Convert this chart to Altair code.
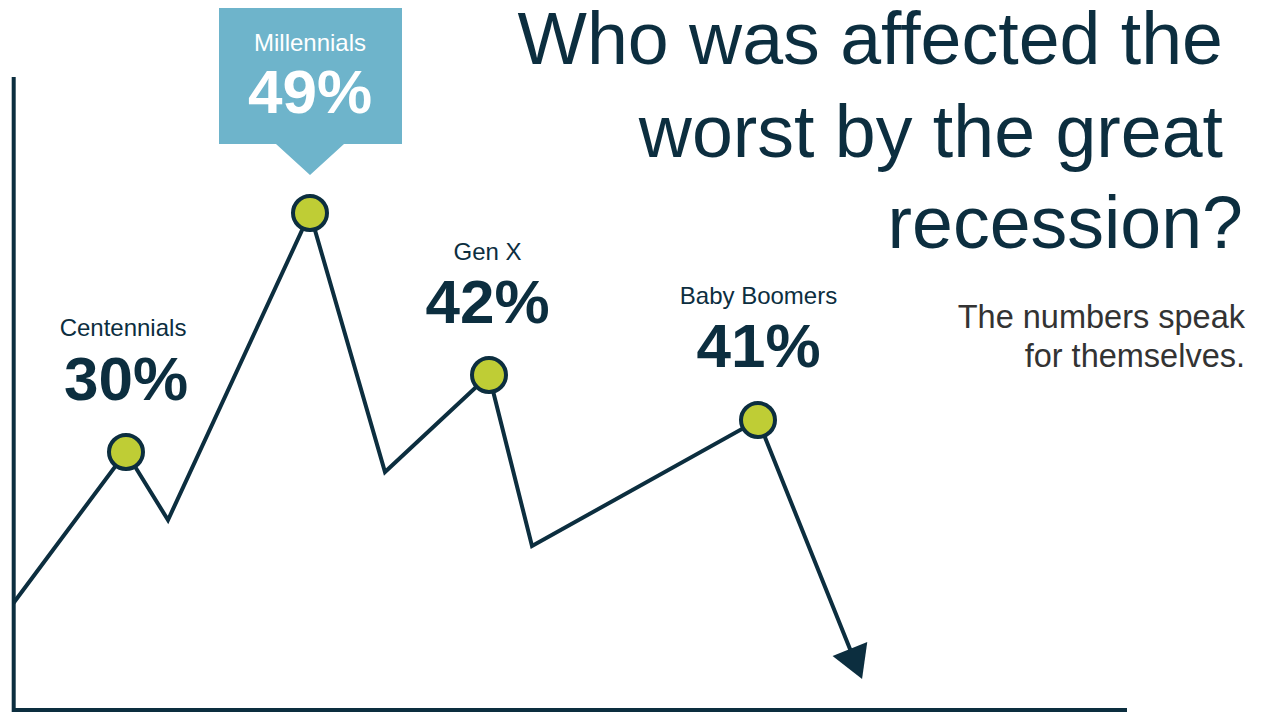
import altair as alt
import pandas as pd

NAVY = "#0C2E3F"
LIME = "#BFCD35"
CALLOUT = "#6EB4CB"
GREY = "#333333"
FONT = "Liberation Sans"

# Illustrative trend line (arbitrary units: x along time, y level)
line_x = [0.55, 11.8, 16.0, 30.2, 37.7, 48.1, 52.4, 75.0, 84.8]
line_y = [10.1, 25.2, 18.4, 49.1, 23.2, 32.9, 15.8, 28.4, 4.0]

# Generations and their shares
generations = ["Centennials", "Millennials", "Gen X", "Baby Boomers"]
shares = [30, 49, 42, 41]
dot_x = [11.8, 30.2, 48.1, 75.0]
dot_y = [25.2, 49.1, 32.9, 28.4]

# Label anchors
name_x = [11.5, 30.2, 47.95, 75.05]
name_y = [36.8, 65.3, 44.4, 40.0]
pct_x = [11.8, 30.2, 47.95, 75.05]
pct_y = [30.4, 59.1, 38.1, 33.7]
label_color = [NAVY, "white", NAVY, NAVY]

# Callout outline for Millennials (box with pointer)
callout_x = [21.1, 26.8, 30.2, 33.6, 39.4]
callout_top = [69.6, 69.6, 69.6, 69.6, 69.6]
callout_bottom = [56.0, 56.0, 52.9, 56.0, 56.0]

# Frame lines
frame_x = [0.57, 0.57]
frame_x2 = [0.57, 111.9]
frame_y = [62.7, -0.6]
frame_y2 = [-0.8, -0.6]

title_lines = ["Who was affected the", "worst by the great", "recession?"]
title_x = [121.5, 121.5, 123.5]
title_y = [64.0, 54.7, 45.6]

sub_lines = ["The numbers speak", "for themselves."]
sub_x = [123.7, 123.7]
sub_y = [37.6, 33.7]

arrow_x = [84.8]
arrow_y = [4.0]

W, H = 1247, 704
xs = alt.Scale(domain=[0, 124.7], nice=False, zero=False)
ys = alt.Scale(domain=[-0.8, 69.6], nice=False, zero=False)

def X(f="x"):
    return alt.X(f"{f}:Q", scale=xs, axis=None)

def Y(f="y"):
    return alt.Y(f"{f}:Q", scale=ys, axis=None)

line_df = pd.DataFrame({"x": line_x, "y": line_y, "o": list(range(len(line_x)))})
dots_df = pd.DataFrame({"x": dot_x, "y": dot_y, "g": generations})
labels_df = pd.DataFrame({
    "g": generations,
    "pct": [f"{v}%" for v in shares],
    "nx": name_x, "ny": name_y, "px": pct_x, "py": pct_y,
    "c": label_color,
})
callout_df = pd.DataFrame({"x": callout_x, "y": callout_top, "y2": callout_bottom})
frame_df = pd.DataFrame({"x": frame_x, "x2": frame_x2, "y": frame_y, "y2": frame_y2})
title_df = pd.DataFrame({"t": title_lines, "x": title_x, "y": title_y})
sub_df = pd.DataFrame({"t": sub_lines, "x": sub_x, "y": sub_y})
arrow_df = pd.DataFrame({"x": arrow_x, "y": arrow_y})

frame = alt.Chart(frame_df).mark_rule(color=NAVY, strokeWidth=4, strokeCap="butt").encode(
    x=X(), x2="x2:Q", y=Y(), y2="y2:Q"
)

callout = alt.Chart(callout_df).mark_area(color=CALLOUT, opacity=1).encode(
    x=X(), y=Y(), y2="y2:Q"
)

trend = alt.Chart(line_df).mark_line(color=NAVY, strokeWidth=4, strokeJoin="miter").encode(
    x=X(), y=Y(), order="o:Q"
)

arrow = alt.Chart(arrow_df).mark_point(
    shape="triangle-down", filled=True, color=NAVY, size=1400, angle=338, opacity=1
).encode(x=X(), y=Y())

dots = alt.Chart(dots_df).mark_point(
    shape="circle", filled=True, fill=LIME, stroke=NAVY, strokeWidth=4, size=1156, opacity=1
).encode(x=X(), y=Y())

names = alt.Chart(labels_df).mark_text(
    font=FONT, fontSize=24, align="center", baseline="alphabetic"
).encode(x=X("nx"), y=Y("ny"), text="g:N", color=alt.Color("c:N", scale=None))

pcts = alt.Chart(labels_df).mark_text(
    font=FONT, fontSize=62, fontWeight="bold", align="center", baseline="alphabetic"
).encode(x=X("px"), y=Y("py"), text="pct:N", color=alt.Color("c:N", scale=None))

title = alt.Chart(title_df).mark_text(
    font=FONT, fontSize=73.5, align="right", baseline="alphabetic", color=NAVY
).encode(x=X(), y=Y(), text="t:N")

sub = alt.Chart(sub_df).mark_text(
    font=FONT, fontSize=32.5, align="right", baseline="alphabetic", color=GREY
).encode(x=X(), y=Y(), text="t:N")

chart = alt.layer(frame, callout, trend, arrow, dots, names, pcts, title, sub).properties(
    width=W, height=H, padding=0, autosize=alt.AutoSizeParams(type="none")
).configure_view(stroke=None)

chart.save("out.html", embed_options={"renderer": "svg", "actions": False})
